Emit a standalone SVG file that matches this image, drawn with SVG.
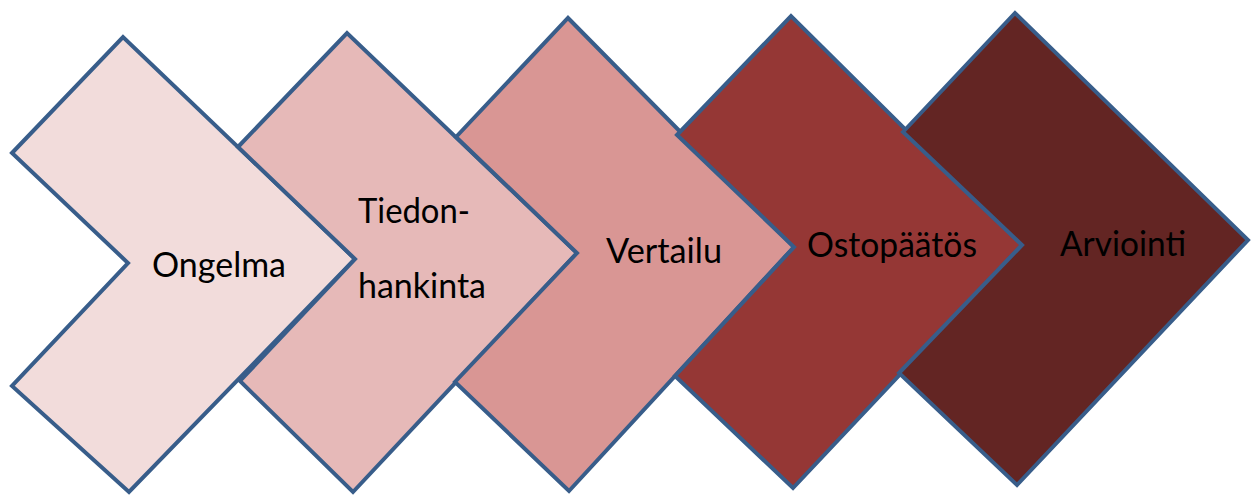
<svg xmlns="http://www.w3.org/2000/svg" width="1251" height="496" viewBox="0 0 1251 496">
<style>
.ch{stroke:#385D8A;stroke-width:4;stroke-linejoin:miter}
.t{font-family:"Lato","Open Sans","Liberation Sans",sans-serif;font-size:34px;fill:#000}
</style>
<rect width="1251" height="496" fill="#fff"/>
<g id="connectors"/>
<g id="n1">
<polygon class="ch" fill="#F2DCDB" points="12,153 123,37 355,259 129,492 12,386 128,263"/>
<text class="t" x="219" y="277" text-anchor="middle" textLength="134" lengthAdjust="spacingAndGlyphs">Ongelma</text>
</g>
<g id="n2">
<polygon class="ch" fill="#E6B9B8" points="238,147 347,33 577,253 353,492 240,381 355,259"/>
<text class="t" x="358" y="223" textLength="112" lengthAdjust="spacingAndGlyphs">Tiedon-</text>
<text class="t" x="358" y="298" textLength="128" lengthAdjust="spacingAndGlyphs">hankinta</text>
</g>
<g id="n3">
<polygon class="ch" fill="#D99694" points="456,137 568,18 794,247 569,491 455,382 577,253"/>
<text class="t" x="664" y="263" text-anchor="middle" textLength="116" lengthAdjust="spacingAndGlyphs">Vertailu</text>
</g>
<g id="n4">
<polygon class="ch" fill="#953735" points="677,135 791,16 1022,245 793,488 675,376 794,247"/>
<text class="t" x="892" y="257" text-anchor="middle" textLength="170" lengthAdjust="spacingAndGlyphs">Ostopäätös</text>
</g>
<g id="n5">
<polygon class="ch" fill="#632523" points="903,132 1015,13 1248,240 1017,485 899,373 1022,245"/>
<text class="t" x="1123" y="256" text-anchor="middle" textLength="126" lengthAdjust="spacingAndGlyphs">Arviointi</text>
</g>
</svg>
